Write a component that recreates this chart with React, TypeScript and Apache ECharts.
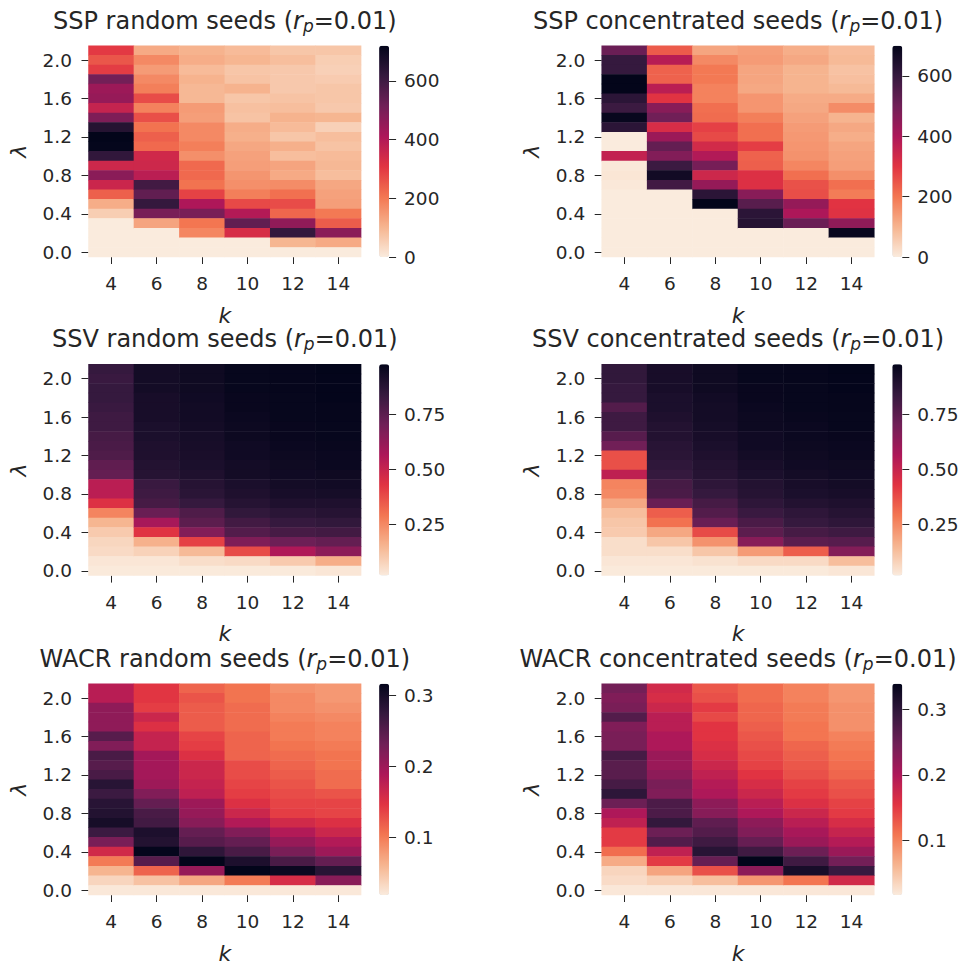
import React, { useEffect, useRef } from "react";
import * as echarts from "echarts";

const kLabels = ["4", "6", "8", "10", "12", "14"];
const lambdaLabels = ["0.0","0.1","0.2","0.3","0.4","0.5","0.6","0.7","0.8","0.9","1.0","1.1","1.2","1.3","1.4","1.5","1.6","1.7","1.8","1.9","2.0","2.1"];
const rocketR = ["#FAEBDD","#F6B48F","#F37651","#E13342","#AD1759","#701F57","#35193E","#03051A"];

// each inner array is one k column, listed from lambda 2.1 down to 0.0
const sspRandom = [
  [300,255,295,510,440,450,365,490,650,720,715,625,350,470,355,240,115,55,0,0,0,0],
  [120,175,145,175,190,270,185,265,210,240,225,345,350,385,595,540,620,500,130,0,0,0],
  [105,115,90,105,95,95,145,140,175,175,190,165,225,225,210,285,410,500,205,180,0,0],
  [90,100,70,75,105,70,80,75,115,110,125,135,140,155,165,190,275,400,540,330,0,0],
  [70,85,65,65,65,75,85,105,90,70,110,85,130,120,170,215,270,230,460,620,100,0],
  [70,55,50,60,70,70,65,100,50,85,75,90,95,85,125,135,140,200,245,470,120,0],
];
const sspConcentrated = [
  [510,600,600,700,700,620,590,690,620,0,0,360,5,10,5,0,0,0,0,0,0,0],
  [240,380,230,230,375,300,460,500,320,430,520,470,590,670,580,0,0,0,0,0,0,0],
  [125,170,195,195,180,180,210,215,280,265,330,390,490,340,440,620,700,0,0,0,0,0],
  [135,140,125,125,120,150,150,185,210,210,285,230,235,310,310,460,540,620,630,0,0,0],
  [110,120,100,100,100,115,120,130,140,145,150,155,175,210,255,260,440,400,510,0,0,0],
  [85,90,75,80,90,115,165,100,120,110,125,130,135,160,210,190,300,305,450,690,0,0],
];
const ssvRandom = [
  [.84,.83,.84,.84,.83,.82,.82,.80,.79,.78,.74,.73,.53,.53,.44,.26,.15,.10,.07,.06,.03,.02],
  [.93,.93,.93,.92,.92,.92,.91,.91,.90,.90,.89,.88,.83,.82,.80,.72,.58,.43,.16,.08,.03,.02],
  [.945,.945,.945,.94,.935,.935,.93,.925,.92,.915,.91,.90,.88,.87,.84,.78,.75,.66,.40,.14,.05,.02],
  [.965,.965,.965,.96,.96,.955,.95,.95,.94,.94,.93,.93,.91,.90,.88,.85,.81,.77,.67,.38,.06,.02],
  [.97,.97,.97,.965,.965,.965,.96,.96,.955,.95,.945,.94,.93,.92,.90,.87,.84,.80,.71,.56,.10,.02],
  [.98,.975,.975,.975,.97,.97,.965,.965,.96,.955,.955,.945,.935,.925,.90,.88,.85,.81,.73,.64,.17,.03],
];
const ssvConcentrated = [
  [.85,.85,.84,.84,.77,.82,.82,.76,.70,.37,.37,.52,.26,.25,.18,.13,.11,.10,.05,.05,.03,.02],
  [.92,.92,.92,.91,.91,.90,.89,.89,.875,.87,.855,.84,.80,.79,.72,.34,.30,.18,.11,.05,.03,.02],
  [.945,.945,.945,.935,.93,.93,.925,.92,.91,.90,.89,.88,.86,.84,.80,.77,.72,.38,.23,.11,.04,.02],
  [.965,.965,.96,.96,.955,.95,.95,.94,.94,.93,.92,.91,.89,.88,.86,.83,.79,.75,.65,.21,.06,.02],
  [.97,.97,.965,.965,.965,.96,.955,.955,.95,.945,.94,.93,.92,.91,.89,.86,.84,.80,.75,.34,.06,.02],
  [.98,.975,.975,.97,.97,.965,.965,.96,.955,.955,.945,.94,.93,.92,.90,.88,.86,.82,.76,.66,.13,.03],
];
const wacrRandom = [
  [.18,.18,.21,.21,.21,.25,.22,.26,.25,.26,.285,.27,.285,.29,.30,.27,.225,.16,.10,.06,.035,.02],
  [.145,.145,.14,.165,.15,.17,.17,.195,.195,.195,.20,.22,.24,.26,.265,.295,.29,.315,.25,.115,.05,.02],
  [.115,.125,.12,.12,.12,.135,.14,.15,.165,.165,.17,.175,.20,.205,.215,.24,.25,.28,.317,.205,.07,.02],
  [.105,.105,.11,.11,.11,.115,.115,.115,.13,.13,.135,.14,.15,.165,.185,.22,.24,.26,.295,.317,.10,.02],
  [.085,.09,.09,.095,.10,.10,.105,.11,.115,.12,.125,.13,.135,.14,.16,.185,.205,.225,.26,.31,.155,.02],
  [.08,.08,.085,.09,.095,.095,.10,.105,.105,.11,.11,.125,.135,.135,.15,.165,.185,.20,.24,.285,.215,.02],
];
const wacrConcentrated = [
  [.245,.235,.24,.27,.235,.24,.24,.28,.265,.265,.28,.30,.25,.20,.185,.15,.15,.115,.07,.035,.03,.02],
  [.17,.165,.175,.19,.19,.20,.20,.215,.215,.225,.24,.235,.275,.275,.295,.25,.27,.185,.15,.075,.04,.02],
  [.13,.135,.15,.14,.155,.155,.16,.165,.175,.185,.195,.20,.225,.23,.26,.27,.285,.305,.255,.135,.055,.02],
  [.115,.115,.12,.12,.125,.13,.135,.14,.145,.155,.165,.175,.19,.20,.225,.235,.255,.285,.339,.225,.085,.02],
  [.10,.10,.105,.105,.11,.11,.12,.125,.13,.135,.145,.15,.16,.175,.19,.205,.215,.25,.285,.32,.11,.02],
  [.085,.085,.09,.09,.09,.10,.105,.11,.115,.12,.13,.135,.145,.15,.165,.18,.195,.215,.245,.29,.17,.02],
];

const FONT = "DejaVu Sans";
const INK = "#262626";
const colX = [88.5, 601.7];
const rowY = [45.7, 364.3, 683.7];
const plotW = 272.6;
const plotH = 211.3;
const barGap = 18;
const barW = 10;

const panels = [
  { name: "SSP random seeds (", values: sspRandom, min: 0, max: 720, ticks: [0, 200, 400, 600], digits: 0, c: 0, r: 0 },
  { name: "SSP concentrated seeds (", values: sspConcentrated, min: 0, max: 700, ticks: [0, 200, 400, 600], digits: 0, c: 1, r: 0 },
  { name: "SSV random seeds (", values: ssvRandom, min: 0.017, max: 0.977, ticks: [0.25, 0.5, 0.75], digits: 2, c: 0, r: 1 },
  { name: "SSV concentrated seeds (", values: ssvConcentrated, min: 0.017, max: 0.977, ticks: [0.25, 0.5, 0.75], digits: 2, c: 1, r: 1 },
  { name: "WACR random seeds (", values: wacrRandom, min: 0.018, max: 0.317, ticks: [0.1, 0.2, 0.3], digits: 1, c: 0, r: 2 },
  { name: "WACR concentrated seeds (", values: wacrConcentrated, min: 0.017, max: 0.339, ticks: [0.1, 0.2, 0.3], digits: 1, c: 1, r: 2 },
];

function buildOption() {
  const title: any[] = [], grid: any[] = [], xAxis: any[] = [], yAxis: any[] = [], series: any[] = [], visualMap: any[] = [];
  const tickStyle = { show: true, length: 7, lineStyle: { color: INK, width: 1 } };
  const labelStyle = { color: INK, fontFamily: FONT, fontSize: 18.5 };
  panels.forEach((p, i) => {
    const left = colX[p.c], top = rowY[p.r];
    title.push({
      text: `{a|${p.name}}{i|r}{s|p}{a|=0.01)}`,
      left: left + plotW / 2,
      top: top - 38.5,
      textAlign: "center",
      padding: 0,
      textStyle: {
        fontWeight: "normal",
        rich: {
          a: { fontFamily: FONT, fontSize: 24, fontWeight: "normal", color: INK },
          i: { fontFamily: FONT, fontSize: 24, fontWeight: "normal", fontStyle: "italic", color: INK },
          s: { fontFamily: FONT, fontSize: 17, fontWeight: "normal", fontStyle: "italic", color: INK, verticalAlign: "bottom", padding: [10, 0, 0, 0] },
        },
      },
    });
    // heatmap grid
    grid.push({ left, top, width: plotW, height: plotH, show: false });
    xAxis.push({
      type: "category", gridIndex: i * 2, data: kLabels, position: "bottom",
      name: "k", nameLocation: "middle", nameGap: 47,
      nameTextStyle: { ...labelStyle, fontStyle: "italic", fontSize: 22 },
      axisLine: { show: false }, splitLine: { show: false }, splitArea: { show: false },
      axisTick: { ...tickStyle, alignWithLabel: true },
      axisLabel: { ...labelStyle, margin: 17, interval: 0 },
    });
    yAxis.push({
      type: "category", gridIndex: i * 2, data: lambdaLabels, position: "left",
      name: "λ", nameLocation: "middle", nameGap: 59,
      nameTextStyle: { ...labelStyle, fontStyle: "italic", fontSize: 22 },
      axisLine: { show: false }, splitLine: { show: false }, splitArea: { show: false },
      axisTick: { ...tickStyle, alignWithLabel: true, interval: 3 },
      axisLabel: { ...labelStyle, margin: 16.5, interval: 3 },
    });
    // colour-bar tick axis
    grid.push({ left: left + plotW + barGap, top, width: barW, height: plotH, show: false });
    xAxis.push({ type: "value", gridIndex: i * 2 + 1, show: false, min: 0, max: 1 });
    yAxis.push({
      type: "value", gridIndex: i * 2 + 1, position: "right", min: p.min, max: p.max,
      axisLine: { show: false, onZero: false }, splitLine: { show: false },
      axisTick: { ...tickStyle, customValues: p.ticks },
      axisLabel: {
        ...labelStyle, margin: 15, customValues: p.ticks, showMinLabel: true, showMaxLabel: true,
        formatter: (v: number) => v.toFixed(p.digits),
      },
    });
    const data: number[][] = [];
    p.values.forEach((col, x) => col.forEach((v, k) => data.push([x, lambdaLabels.length - 1 - k, v])));
    series.push({
      type: "heatmap", xAxisIndex: i * 2, yAxisIndex: i * 2, data,
      itemStyle: { borderWidth: 0 }, emphasis: { disabled: true }, progressive: 0,
    });
    visualMap.push({
      type: "continuous", seriesIndex: i, dimension: 2, min: p.min, max: p.max,
      calculable: false, realtime: false, hoverLink: false, padding: 0,
      left: left + plotW + barGap, top, itemWidth: barW, itemHeight: plotH,
      inRange: { color: rocketR },
      textStyle: { color: INK, fontFamily: FONT },
    });
  });
  return { animation: false, backgroundColor: "#ffffff", textStyle: { fontFamily: FONT }, title, grid, xAxis, yAxis, series, visualMap };
}

export default function App() {
  const ref = useRef<HTMLDivElement>(null);
  useEffect(() => {
    const chart = echarts.init(ref.current!, undefined, { renderer: "svg" });
    chart.setOption(buildOption() as any);
    return () => chart.dispose();
  }, []);
  return <div ref={ref} style={{ position: "fixed", left: 0, top: 0, width: 964, height: 965 }} />;
}
